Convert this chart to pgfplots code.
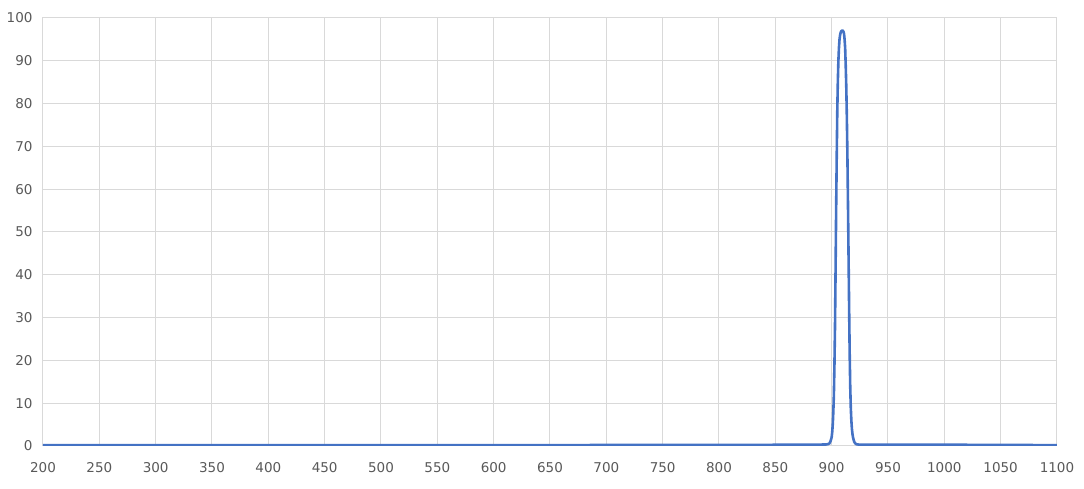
\documentclass[border=0pt]{standalone}
\usepackage{pgfplots}
\pgfplotsset{compat=1.18}
\usepackage{fontspec}
\setmainfont{DejaVu Sans}
\definecolor{lineblue}{HTML}{4472C4}
\definecolor{gridgray}{HTML}{D9D9D9}
\definecolor{labelgray}{HTML}{595959}
\begin{document}
\begin{tikzpicture}
\useasboundingbox (-43pt,-43pt) rectangle (1041pt,446pt);
\begin{axis}[
  scale only axis,
  width=1014pt, height=428pt,
  xmin=200, xmax=1100, ymin=0, ymax=100,
  xtick distance=50, ytick distance=10,
  grid=major,
  major grid style={gridgray, line width=1pt},
  axis line style={gridgray, line width=1pt},
  tick style={draw=none},
  ticklabel style={font=\fontsize{13.5}{15}\selectfont, text=labelgray},
  xticklabel style={yshift=-13pt},
  yticklabel style={xshift=-7pt},
  /pgf/number format/assume math mode=true,
  /pgf/number format/1000 sep={},
]
\addplot[lineblue, line width=2.6pt, line join=round] coordinates {
(200,0.2) (400,0.2) (600,0.2) (800,0.25) (880,0.3) (895,0.35) (897,0.45) (898,0.6) (899,1.1)
(900,2) (900.5,3.2) (901,5) (901.5,8) (902,12) (902.5,19) (903,28) (903.5,41) (904,55) (904.5,67) (905,78) (905.5,85) (906,90) (906.5,93) (907,95)
(907.5,96) (908,96.6) (908.5,96.9) (909,97) (909.5,97.1) (910,97) (910.5,96.8) (911,96.3) (911.5,95) (912,93) (912.5,89) (913,84) (913.5,77) (914,68)
(914.5,57) (915,45) (915.5,33) (916,22) (916.5,14) (917,9) (917.5,6) (918,4) (918.5,2.8) (919,2) (920,1) (921,0.6) (922,0.4) (925,0.3)
(1000,0.3) (1100,0.2)
};
\end{axis}
\end{tikzpicture}
\end{document}
